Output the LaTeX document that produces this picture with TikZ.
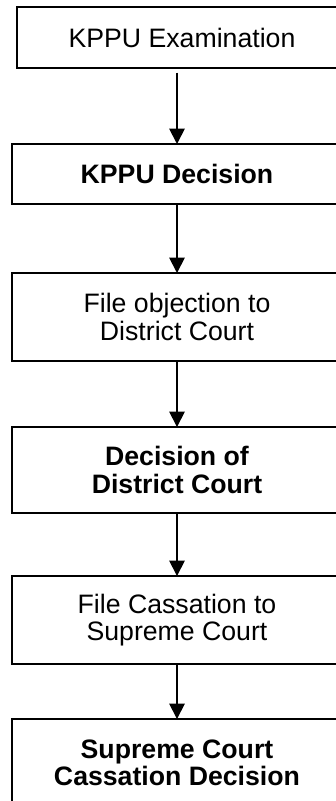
\documentclass[tikz,border=0pt]{standalone}
\usepackage{fontspec}
\setmainfont{Liberation Sans}
\usepackage{tikz}
\usetikzlibrary{positioning,arrows.meta}

\tikzset{
  stage/.style={draw=black, line width=1.4pt, fill=white, inner sep=0pt, outer sep=0pt,
    minimum width=247.5pt, align=center, font=\fontsize{20}{20.5}\selectfont},
  stagebold/.style={stage, font=\fontsize{20}{20.5}\selectfont\bfseries},
  flow/.style={line width=1.4pt, -{Triangle[width=11.5pt,length=11.5pt]}}
}

\begin{document}
\begin{tikzpicture}[x=0.75pt, y=-0.75pt]
      \clip (0,0) rectangle (336,801);
      \useasboundingbox (0,0) rectangle (336,801);

      \node[stage, minimum height=45.75pt] (exam) at (182,37.5) {KPPU Examination};
      \node[stagebold, minimum height=45pt] (kppu) at (177,174) {KPPU Decision};
      \node[stage, minimum height=66pt] (objection) at (177,317) {File objection to\\District Court};
      \node[stagebold, minimum height=64.5pt] (district) at (177,470) {Decision of\\District Court};
      \node[stage, minimum height=66pt] (cassation) at (177,620) {File Cassation to\\Supreme Court};
      \node[stagebold, minimum height=66pt] (supreme) at (177,763) {Supreme Court\\Cassation Decision};

      \draw[flow, shorten <=3.5pt] (kppu.north |- exam.south) -- (kppu.north);
      \draw[flow] (kppu.south) -- (objection.north);
      \draw[flow] (objection.south) -- (district.north);
      \draw[flow] (district.south) -- (cassation.north);
      \draw[flow] (cassation.south) -- (supreme.north);
    \end{tikzpicture}
\end{document}
